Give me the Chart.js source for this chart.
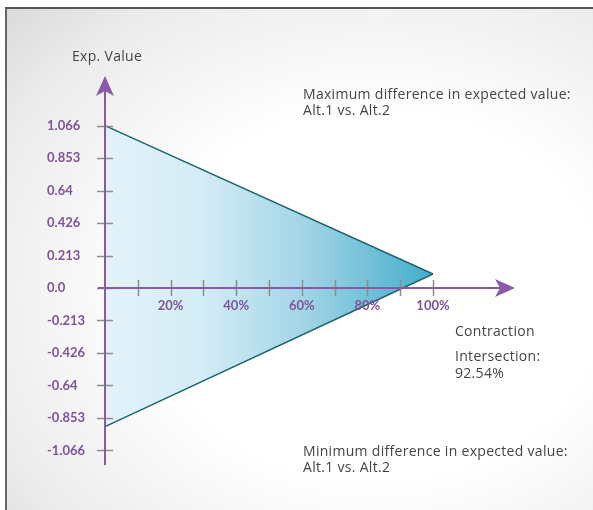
<!DOCTYPE html>
<html>
<head>
<meta charset="utf-8">
<script src="https://cdn.jsdelivr.net/npm/chart.js@4.4.0/dist/chart.umd.min.js"></script>
<style>
  html, body { margin: 0; padding: 0; background: #fff; }
  #wrap { position: relative; width: 593px; height: 510px; overflow: hidden; }
  #frame {
    position: absolute; left: 5px; top: 7px; right: -10px; bottom: -10px;
    border-top: 2px solid #555; border-left: 2px solid #666;
    background: radial-gradient(ellipse 95% 90% at 62% 56%, #ffffff 40%, #ebebeb 74%, #d0d0d0 100%);
  }
  canvas { position: absolute; left: 0; top: 0; }
  .note {
    position: absolute; font-family: 'Open Sans', sans-serif; font-size: 14px;
    letter-spacing: 0.3px; color: #454545; line-height: 16px; white-space: nowrap;
  }
</style>
</head>
<body>
<div id="wrap">
  <div id="frame"></div>
  <canvas id="chart" width="593" height="510"></canvas>
  <div class="note" style="left:72px; top:48px;">Exp. Value</div>
  <div class="note" style="left:303px; top:86px;">Maximum difference in expected value:<br>Alt.1 vs. Alt.2</div>
  <div class="note" style="left:455px; top:323px;">Contraction</div>
  <div class="note" style="left:455px; top:347px; line-height:17px;">Intersection:<br>92.54%</div>
  <div class="note" style="left:303px; top:443px;">Minimum difference in expected value:<br>Alt.1 vs. Alt.2</div>
</div>
<script>
// Datos del gráfico
const contraction = [0, 100];
const maxDiff = [1.066, 0.092];
const minDiff = [-0.91, 0.092];

const yTicks = [1.066, 0.853, 0.64, 0.426, 0.213, 0, -0.213, -0.426, -0.64, -0.853, -1.066];
const yTickLabels = ['1.066', '0.853', '0.64', '0.426', '0.213', '0.0', '-0.213', '-0.426', '-0.64', '-0.853', '-1.066'];
const xTicks = [10, 20, 30, 40, 50, 60, 70, 80, 90, 100];
const xTickLabels = ['', '20%', '', '40%', '', '60%', '', '80%', '', '100%'];

const PURPLE = '#8a5aa4';
const LABEL_PURPLE = '#7d5399';
const TICK_GRAY = '#8c8c8c';

// Gradiente horizontal del triángulo
function triangleFill(ctx) {
    const chart = ctx.chart;
    if (!chart.chartArea) return 'rgba(0,0,0,0)';
    const x0 = chart.scales.x.getPixelForValue(0);
    const x1 = chart.scales.x.getPixelForValue(100);
    const g = chart.ctx.createLinearGradient(x0, 0, x1, 0);
    g.addColorStop(0, '#e3f2fa');
    g.addColorStop(0.3, '#d3ecf6');
    g.addColorStop(0.6, '#a3d5e7');
    g.addColorStop(1, '#44adca');
    return g;
}

// Ejes con flechas y marcas
const axesPlugin = {
    id: 'axesArrows',
    afterDatasetsDraw(chart) {
        const { ctx, chartArea, scales } = chart;
        const ox = scales.x.getPixelForValue(0);
        const oy = scales.y.getPixelForValue(0);
        ctx.save();

        // marcas grises
        ctx.strokeStyle = TICK_GRAY;
        ctx.lineWidth = 1.5;
        yTicks.forEach(v => {
            const py = Math.round(scales.y.getPixelForValue(v)) + 0.5;
            ctx.beginPath();
            ctx.moveTo(ox - 8, py);
            ctx.lineTo(ox + 8, py);
            ctx.stroke();
        });
        xTicks.forEach(v => {
            const px = Math.round(scales.x.getPixelForValue(v)) + 0.5;
            ctx.beginPath();
            ctx.moveTo(px, oy - 8);
            ctx.lineTo(px, oy + 8);
            ctx.stroke();
        });

        // líneas de los ejes
        ctx.strokeStyle = PURPLE;
        ctx.lineWidth = 2;
        ctx.beginPath();
        ctx.moveTo(ox, chartArea.bottom);
        ctx.lineTo(ox, chartArea.top + 14);
        ctx.moveTo(chartArea.left - 1, oy);
        ctx.lineTo(chartArea.right - 14, oy);
        ctx.stroke();

        // flechas
        ctx.fillStyle = PURPLE;
        const t = chartArea.top;
        ctx.beginPath();
        ctx.moveTo(ox, t);
        ctx.lineTo(ox + 9, t + 20);
        ctx.lineTo(ox, t + 15);
        ctx.lineTo(ox - 9, t + 20);
        ctx.closePath();
        ctx.fill();
        const r = chartArea.right;
        ctx.beginPath();
        ctx.moveTo(r, oy);
        ctx.lineTo(r - 20, oy - 9);
        ctx.lineTo(r - 15, oy);
        ctx.lineTo(r - 20, oy + 9);
        ctx.closePath();
        ctx.fill();
        ctx.restore();
    }
};

const chart = new Chart(document.getElementById('chart'), {
    type: 'line',
    data: {
        datasets: [
            {
                label: 'Maximum difference',
                data: contraction.map((x, i) => ({ x: x, y: maxDiff[i] })),
                borderColor: '#1f656e',
                borderWidth: 1.5,
                pointRadius: 0,
                tension: 0,
                fill: false
            },
            {
                label: 'Minimum difference',
                data: contraction.map((x, i) => ({ x: x, y: minDiff[i] })),
                borderColor: '#1f656e',
                borderWidth: 1.5,
                pointRadius: 0,
                tension: 0,
                fill: '-1',
                backgroundColor: triangleFill
            }
        ]
    },
    options: {
        responsive: false,
        animation: false,
        devicePixelRatio: 1,
        layout: { padding: { left: 47, top: 76, right: 78, bottom: 45 } },
        plugins: {
            legend: { display: false },
            tooltip: { enabled: false }
        },
        scales: {
            x: {
                type: 'linear',
                position: { y: 0 },
                min: -1.83,
                max: 125,
                grid: { display: false, drawTicks: false },
                border: { display: false },
                afterBuildTicks: scale => { scale.ticks = xTicks.map(v => ({ value: v })); },
                ticks: {
                    z: 1,
                    autoSkip: false,
                    maxRotation: 0,
                    padding: 10,
                    color: LABEL_PURPLE,
                    font: { family: 'Lato', size: 13, weight: 'bold' },
                    callback: (v, i) => xTickLabels[i]
                }
            },
            y: {
                position: 'left',
                min: -1.162,
                max: 1.392,
                grid: { display: false, drawTicks: false },
                border: { display: false },
                afterBuildTicks: scale => { scale.ticks = yTicks.map(v => ({ value: v })); },
                afterFit: scale => { scale.width = 52; },
                ticks: {
                    autoSkip: false,
                    crossAlign: 'far',
                    color: LABEL_PURPLE,
                    font: { family: 'Lato', size: 13, weight: 'bold' },
                    callback: (v, i) => yTickLabels[i]
                }
            }
        }
    },
    plugins: [axesPlugin]
});
</script>
</body>
</html>
